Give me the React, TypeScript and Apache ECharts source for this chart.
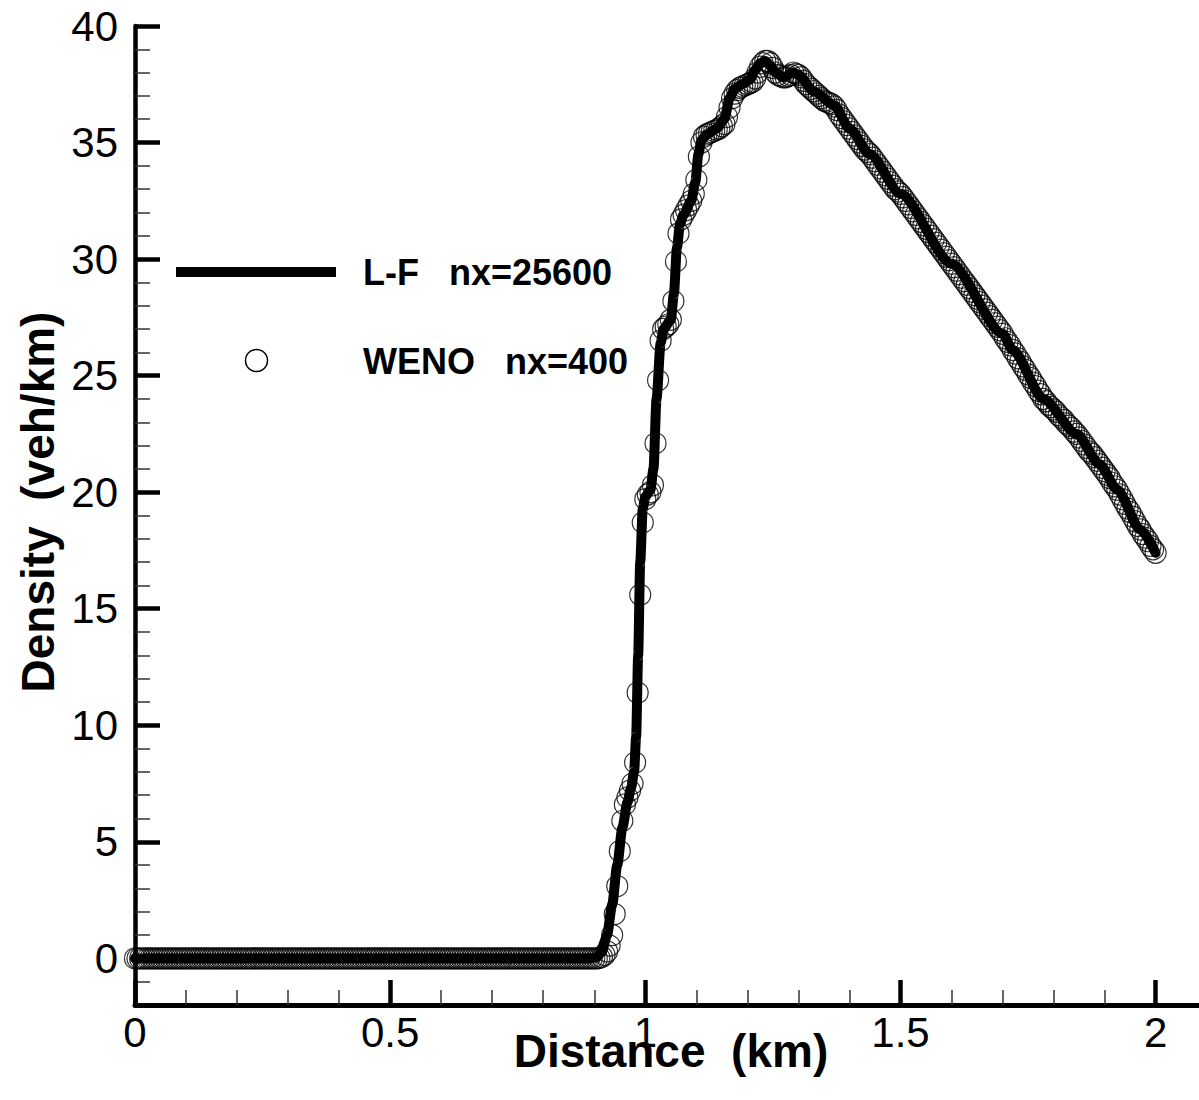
import React, { useEffect, useRef } from "react";
import * as echarts from "echarts";

// ---- axis ticks ----
const xMajorTicks = [0, 0.5, 1, 1.5, 2];
const xMinorTicks = [
  0.1, 0.2, 0.3, 0.4, 0.6, 0.7, 0.8, 0.9, 1.1, 1.2, 1.3, 1.4, 1.6, 1.7, 1.8, 1.9,
];
const yMajorTicks = [0, 5, 10, 15, 20, 25, 30, 35, 40];
const yMinorTicks = [
  -1, 1, 2, 3, 4, 6, 7, 8, 9, 11, 12, 13, 14, 16, 17, 18, 19, 21, 22, 23, 24,
  26, 27, 28, 29, 31, 32, 33, 34, 36, 37, 38, 39,
];

// ---- L-F nx=25600 reference solution (distance km, density veh/km) ----
const lfX = [
  0, 0.89, 0.905, 0.915, 0.925, 0.935, 0.945, 0.955, 0.965, 0.972, 0.978, 0.982,
  0.986, 0.99, 0.995, 1.0, 1.01, 1.016, 1.022, 1.03, 1.036, 1.05, 1.056, 1.062,
  1.068, 1.075, 1.09, 1.098, 1.104, 1.11, 1.12, 1.14, 1.155, 1.165, 1.175, 1.19,
  1.205, 1.215, 1.225, 1.235, 1.245, 1.255, 1.27, 1.29, 1.3, 1.33, 1.37, 1.4,
  1.44, 1.5, 1.6, 1.7, 1.72, 1.78, 1.845, 1.89, 1.925, 1.97, 2.0,
];
const lfY = [
  0, 0, 0.05, 0.3, 1.0, 2.3, 4.0, 5.6, 6.7, 7.3, 8.0, 9.5,
  13, 17, 19.3, 19.8, 20.1, 21, 24, 26.4, 27, 27.4, 28.5, 30.5,
  31.5, 31.9, 32.5, 33.3, 34.5, 35.1, 35.35, 35.6, 36.0, 36.9, 37.3, 37.5,
  37.7, 38.1, 38.4, 38.5, 38.3, 38.0, 37.8, 38.0, 37.9, 37.2, 36.6, 35.6,
  34.5, 32.8, 29.8, 26.8, 26.1, 24.0, 22.5, 21.2, 20.1, 18.4, 17.4,
];

// ---- WENO nx=400: density at cells 0..400 (dx = 0.005 km) ----
const wenoDx = 0.005;
const wenoFlatY = [
  0, 0, 0, 0, 0, 0, 0, 0, 0, 0,
  0, 0, 0, 0, 0, 0, 0, 0, 0, 0,
  0, 0, 0, 0, 0, 0, 0, 0, 0, 0,
  0, 0, 0, 0, 0, 0, 0, 0, 0, 0,
  0, 0, 0, 0, 0, 0, 0, 0, 0, 0,
  0, 0, 0, 0, 0, 0, 0, 0, 0, 0,
  0, 0, 0, 0, 0, 0, 0, 0, 0, 0,
  0, 0, 0, 0, 0, 0, 0, 0, 0, 0,
  0, 0, 0, 0, 0, 0, 0, 0, 0, 0,
  0, 0, 0, 0, 0, 0, 0, 0, 0, 0,
  0, 0, 0, 0, 0, 0, 0, 0, 0, 0,
  0, 0, 0, 0, 0, 0, 0, 0, 0, 0,
  0, 0, 0, 0, 0, 0, 0, 0, 0, 0,
  0, 0, 0, 0, 0, 0, 0, 0, 0, 0,
  0, 0, 0, 0, 0, 0, 0, 0, 0, 0,
  0, 0, 0, 0, 0, 0, 0, 0, 0, 0,
  0, 0, 0, 0, 0, 0, 0, 0, 0, 0,
  0, 0, 0, 0, 0, 0, 0, 0, 0, 0,
  0, 0,
];
const wenoRiseY = [
  0.02, 0.06, 0.15, 0.3, 0.55, 1.0, 1.9, 3.1, 4.6, 5.9,
  6.6, 6.9, 7.2, 7.5, 8.4, 11.4, 15.6, 18.7, 19.7, 19.9,
  20.0, 20.3, 22.1, 24.8, 26.5, 27.0, 27.1, 27.2, 27.4, 28.2,
  29.9, 31.1, 31.7, 31.9, 32.1, 32.3, 32.5, 32.8, 33.4, 34.4,
  35.0, 35.25, 35.35, 35.4, 35.45, 35.5, 35.55, 35.6, 35.7, 35.8,
  36.1, 36.5, 36.9, 37.1, 37.25, 37.35, 37.4, 37.45, 37.5, 37.55,
  37.6, 37.75, 38.0, 38.25, 38.4, 38.5, 38.5, 38.4, 38.2, 38.0,
  37.9, 37.85, 37.8, 37.8, 37.85, 37.9, 38.0, 37.95, 37.9, 37.8,
  37.65, 37.5, 37.4, 37.3, 37.2, 37.1, 37.0, 36.9, 36.8, 36.75,
  36.7, 36.65, 36.55, 36.4, 36.2, 36.05, 35.9, 35.75, 35.6, 35.45,
  35.3, 35.15, 35.0, 34.85, 34.7, 34.6, 34.5, 34.35, 34.2, 34.05,
  33.9, 33.75, 33.6, 33.45, 33.3, 33.15, 33.0, 32.9, 32.8, 32.65,
  32.5, 32.35, 32.2, 32.05, 31.9, 31.75, 31.6, 31.45, 31.3, 31.15,
  31.0, 30.85, 30.7, 30.55, 30.4, 30.25, 30.1, 29.95, 29.8, 29.65,
  29.5, 29.35, 29.2, 29.05, 28.9, 28.75, 28.6, 28.45, 28.3, 28.15,
  28.0, 27.85, 27.7, 27.55, 27.4, 27.25, 27.1, 26.95, 26.8, 26.6,
  26.45, 26.3, 26.1, 25.95, 25.75, 25.6, 25.4, 25.25, 25.05, 24.9,
  24.7, 24.55, 24.35, 24.2, 24.0, 23.9, 23.75, 23.65, 23.55, 23.45,
  23.3, 23.2, 23.1, 22.95, 22.85, 22.75, 22.6, 22.5, 22.35, 22.2,
  22.05, 21.9, 21.75, 21.65, 21.5, 21.35, 21.2, 21.05, 20.9, 20.75,
  20.6, 20.4, 20.25, 20.1, 19.9, 19.7, 19.5, 19.3, 19.15, 18.95,
  18.75, 18.55, 18.4, 18.2, 18.05, 17.9, 17.7, 17.55, 17.4,
];

const FONT = '"Liberation Sans", Arial, Helvetica, sans-serif';

export default function App() {
  const ref = useRef<HTMLDivElement>(null);

  useEffect(() => {
    document.body.style.margin = "0";
    document.body.style.overflow = "hidden";
    if (!ref.current) return;
    const chart = echarts.init(ref.current, null, { renderer: "svg" });

    const lfData = lfX.map((x, i) => [x, lfY[i]]);
    const wenoY = wenoFlatY.concat(wenoRiseY);
    const wenoData = wenoY.map((y, i) => [Number((i * wenoDx).toFixed(3)), y]);

    const xBase = {
      type: "value",
      min: 0,
      max: 2.085,
      position: "bottom",
      splitLine: { show: false },
    };
    const yBase = {
      type: "value",
      min: -2,
      max: 40,
      position: "left",
      splitLine: { show: false },
    };

    chart.setOption({
      animation: false,
      backgroundColor: "#fff",
      grid: { left: 135, top: 26, right: 0, bottom: 95, containLabel: false },
      xAxis: [
        {
          ...xBase,
          axisLine: { show: true, onZero: false, lineStyle: { color: "#000", width: 5 } },
          axisTick: {
            show: true,
            inside: true,
            length: 15,
            customValues: xMinorTicks,
            lineStyle: { color: "#333", width: 1.5 },
          },
          axisLabel: { show: false },
        },
        {
          ...xBase,
          axisLine: { show: false, onZero: false },
          axisTick: {
            show: true,
            inside: true,
            length: 25,
            customValues: xMajorTicks,
            lineStyle: { color: "#000", width: 4.5 },
          },
          axisLabel: {
            show: true,
            customValues: xMajorTicks,
            fontSize: 42,
            fontFamily: FONT,
            color: "#000",
            margin: 6,
          },
        },
      ],
      yAxis: [
        {
          ...yBase,
          axisLine: { show: true, onZero: false, lineStyle: { color: "#000", width: 4.5 } },
          axisTick: {
            show: true,
            inside: true,
            length: 15,
            customValues: yMinorTicks,
            lineStyle: { color: "#333", width: 1.5 },
          },
          axisLabel: { show: false },
        },
        {
          ...yBase,
          axisLine: { show: false, onZero: false },
          axisTick: {
            show: true,
            inside: true,
            length: 25,
            customValues: yMajorTicks,
            lineStyle: { color: "#000", width: 4.5 },
          },
          axisLabel: {
            show: true,
            customValues: yMajorTicks,
            fontSize: 42,
            fontFamily: FONT,
            color: "#000",
            margin: 17,
          },
        },
      ],
      series: [
        {
          name: "L-F   nx=25600",
          type: "line",
          xAxisIndex: 0,
          yAxisIndex: 0,
          data: lfData,
          symbol: "none",
          smooth: 0.25,
          smoothMonotone: "x",
          clip: false,
          lineStyle: { color: "#000", width: 10, cap: "round", join: "round" },
          z: 2,
        },
        {
          name: "WENO   nx=400",
          type: "scatter",
          xAxisIndex: 0,
          yAxisIndex: 0,
          data: wenoData,
          symbol: "circle",
          symbolSize: 21,
          clip: false,
          itemStyle: { color: "rgba(0,0,0,0)", borderColor: "#000", borderWidth: 1.2 },
          z: 3,
        },
      ],
      graphic: [
        {
          type: "line",
          shape: { x1: 176, y1: 272, x2: 336, y2: 272 },
          style: { stroke: "#000", lineWidth: 10 },
        },
        {
          type: "text",
          x: 363,
          y: 272,
          style: {
            text: "L-F   nx=25600",
            font: `bold 36px ${FONT}`,
            fill: "#000",
            align: "left",
            verticalAlign: "middle",
          },
        },
        {
          type: "circle",
          shape: { cx: 256.5, cy: 360.5, r: 11 },
          style: { fill: "#fff", stroke: "#000", lineWidth: 1.5 },
        },
        {
          type: "text",
          x: 363,
          y: 361,
          style: {
            text: "WENO   nx=400",
            font: `bold 36px ${FONT}`,
            fill: "#000",
            align: "left",
            verticalAlign: "middle",
          },
        },
        {
          type: "text",
          x: 671,
          y: 1051,
          style: {
            text: "Distance  (km)",
            font: `bold 46px ${FONT}`,
            fill: "#000",
            align: "center",
            verticalAlign: "middle",
          },
        },
        {
          type: "text",
          x: 38,
          y: 502,
          rotation: Math.PI / 2,
          style: {
            text: "Density  (veh/km)",
            font: `bold 46px ${FONT}`,
            fill: "#000",
            align: "center",
            verticalAlign: "middle",
          },
        },
      ],
    });

    return () => chart.dispose();
  }, []);

  return <div ref={ref} style={{ width: 1199, height: 1100 }} />;
}
